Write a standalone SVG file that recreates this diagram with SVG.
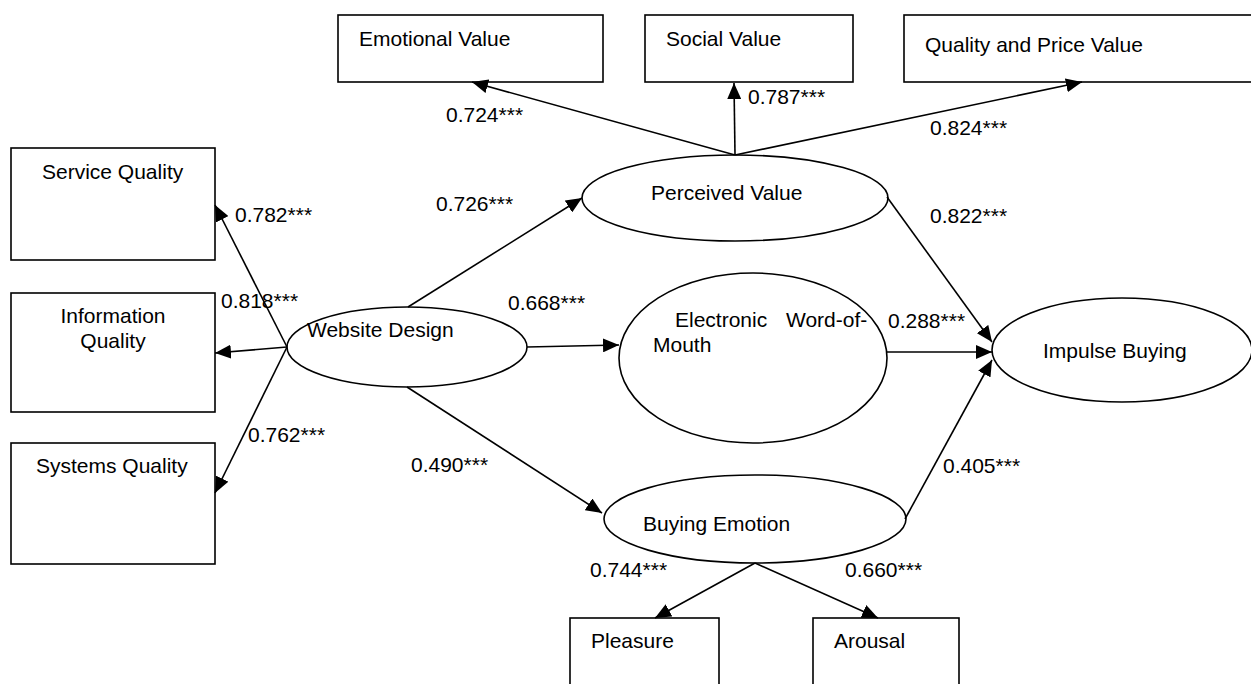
<svg xmlns="http://www.w3.org/2000/svg" width="1251" height="684" viewBox="0 0 1251 684">
<style>
text{font-family:"Liberation Sans",Arial,sans-serif;font-size:21px;fill:#000}
.b{fill:#fff;stroke:#000;stroke-width:1.6}
.c line{stroke:#000;stroke-width:1.6;marker-end:url(#ah)}
</style>
<defs>
<marker id="ah" markerUnits="userSpaceOnUse" markerWidth="16" markerHeight="14" refX="16" refY="7" orient="auto">
<path d="M0,0 L16,7 L0,14 z" fill="#000"/>
</marker>
</defs>
<rect width="1251" height="684" fill="#fff"/>
<g id="emotional-value"><rect class="b" x="338" y="15" width="265" height="67"/><text x="359" y="46">Emotional Value</text></g>
<g id="social-value"><rect class="b" x="645" y="15" width="208" height="67"/><text x="666" y="46">Social Value</text></g>
<g id="quality-price-value"><rect class="b" x="904" y="15" width="360" height="67"/><text x="925" y="52">Quality and Price Value</text></g>
<g id="service-quality"><rect class="b" x="11" y="148" width="204" height="112"/><text x="42" y="179">Service Quality</text></g>
<g id="information-quality"><rect class="b" x="11" y="293" width="204" height="119"/><text x="113" y="323" text-anchor="middle">Information</text><text x="113" y="348" text-anchor="middle">Quality</text></g>
<g id="systems-quality"><rect class="b" x="11" y="443" width="204" height="121"/><text x="36" y="473">Systems Quality</text></g>
<g id="pleasure"><rect class="b" x="570" y="618" width="149" height="80"/><text x="591" y="648">Pleasure</text></g>
<g id="arousal"><rect class="b" x="813" y="618" width="146" height="80"/><text x="834" y="648">Arousal</text></g>
<g id="perceived-value"><ellipse class="b" cx="735" cy="198" rx="153" ry="43"/><text x="651" y="200">Perceived Value</text></g>
<g id="website-design"><ellipse class="b" cx="407" cy="347" rx="120" ry="40"/><text x="307" y="337">Website Design</text></g>
<g id="ewom"><ellipse class="b" cx="753" cy="358" rx="134" ry="85"/><text x="675" y="327">Electronic</text><text x="786" y="327">Word-of-</text><text x="653" y="352">Mouth</text></g>
<g id="impulse-buying"><ellipse class="b" cx="1122" cy="350" rx="130" ry="52"/><text x="1043" y="358">Impulse Buying</text></g>
<g id="buying-emotion"><ellipse class="b" cx="755" cy="519" rx="151" ry="44"/><text x="643" y="531">Buying Emotion</text></g>
<g id="connectors" class="c">
<line x1="735" y1="155" x2="472" y2="82"/>
<line x1="735" y1="155" x2="734" y2="83"/>
<line x1="735" y1="155" x2="1082" y2="82"/>
<line x1="287" y1="347" x2="215" y2="205"/>
<line x1="287" y1="347" x2="215" y2="353"/>
<line x1="287" y1="347" x2="215" y2="493"/>
<line x1="408" y1="307" x2="582" y2="198"/>
<line x1="527" y1="347" x2="619" y2="345"/>
<line x1="407" y1="387" x2="602" y2="513"/>
<line x1="887" y1="197" x2="992" y2="342"/>
<line x1="887" y1="352" x2="992" y2="352"/>
<line x1="905" y1="519" x2="992" y2="360"/>
<line x1="755" y1="563" x2="655" y2="618"/>
<line x1="755" y1="563" x2="878" y2="618"/>
</g>
<g id="labels">
<text x="446" y="122">0.724***</text>
<text x="748" y="104">0.787***</text>
<text x="930" y="135">0.824***</text>
<text x="436" y="211">0.726***</text>
<text x="930" y="223">0.822***</text>
<text x="235" y="222">0.782***</text>
<text x="221" y="308">0.818***</text>
<text x="248" y="442">0.762***</text>
<text x="508" y="310">0.668***</text>
<text x="888" y="328">0.288***</text>
<text x="411" y="472">0.490***</text>
<text x="943" y="473">0.405***</text>
<text x="590" y="577">0.744***</text>
<text x="845" y="577">0.660***</text>
</g>
</svg>
